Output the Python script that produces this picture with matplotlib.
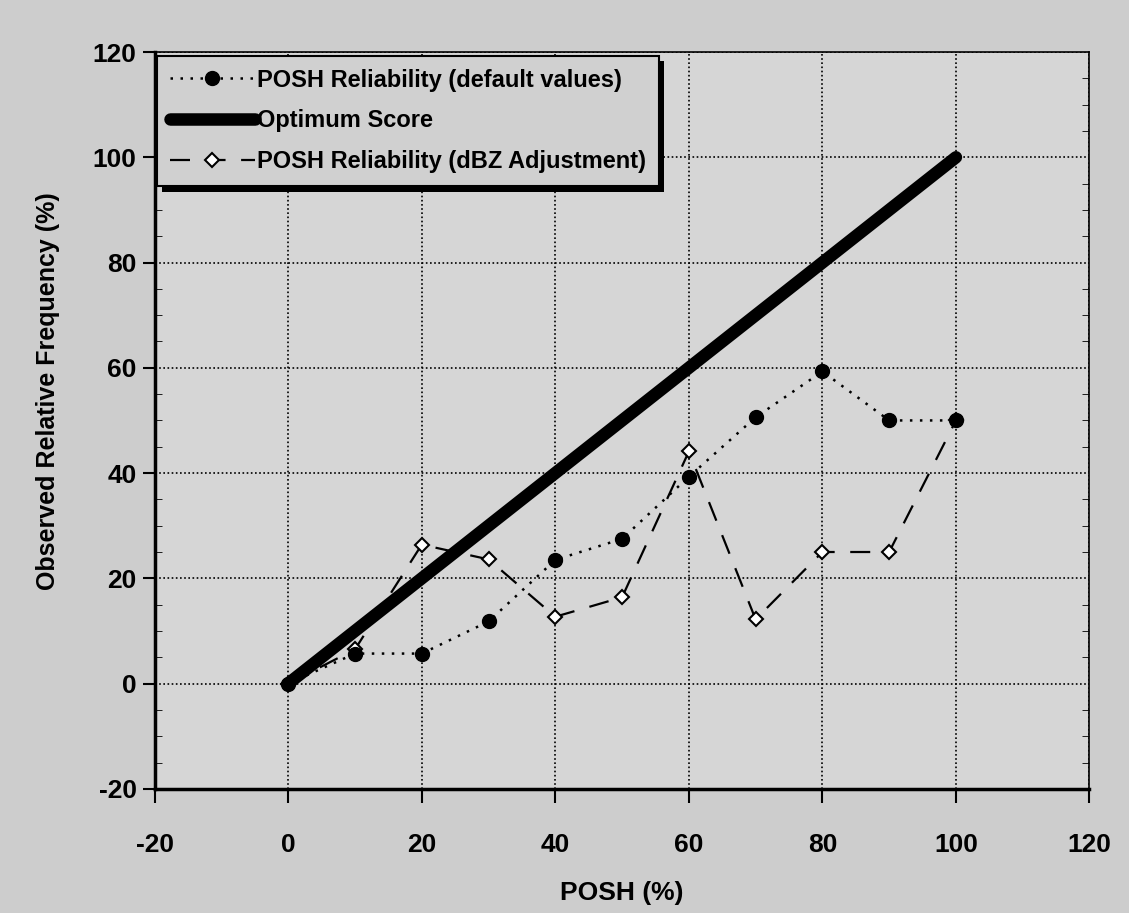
import matplotlib
matplotlib.use('Agg')
import matplotlib.pyplot as plt
import matplotlib.patheffects as pe
from matplotlib.ticker import MultipleLocator

# POSH forecast bins (%)
posh = [0, 10, 20, 30, 40, 50, 60, 70, 80, 90, 100]
# observed relative frequency (%)
default_vals = [0, 5.7, 5.7, 11.8, 23.5, 27.5, 39.3, 50.6, 59.3, 50.0, 50.0]
dbz_vals = [0, 6.5, 26.4, 23.6, 12.7, 16.4, 44.1, 12.2, 25.0, 25.0, 50.0]
optimum_x = [0, 100]
optimum_y = [0, 100]

plt.rcParams['font.family'] = ['Liberation Sans', 'DejaVu Sans']
plt.rcParams['axes.unicode_minus'] = False

fig = plt.figure(figsize=(11.29, 9.13), dpi=100, facecolor='#cdcdcd')
ax = fig.add_axes([0.137, 0.136, 0.828, 0.807])
ax.set_facecolor('#d6d6d6')

ax.plot(posh, default_vals, linestyle=(0, (1, 3)), color='black', lw=1.8,
        marker='o', markersize=10, markerfacecolor='black',
        label='POSH Reliability (default values)', zorder=5)
ax.plot(optimum_x, optimum_y, color='black', lw=9, solid_capstyle='round',
        label='Optimum Score', zorder=3)
ax.plot(posh, dbz_vals, linestyle=(0, (9, 7)), color='black', lw=1.6,
        marker='D', markersize=7, markerfacecolor='white', markeredgewidth=1.5,
        label='POSH Reliability (dBZ Adjustment)', zorder=4)

ax.set_xlim(-20, 120)
ax.set_ylim(-20, 120)
ax.xaxis.set_major_locator(MultipleLocator(20))
ax.yaxis.set_major_locator(MultipleLocator(20))
ax.yaxis.set_minor_locator(MultipleLocator(5))
ax.tick_params(axis='y', which='minor', direction='in', left=True, right=True, length=5)
ax.tick_params(axis='both', which='major', width=1.5, labelsize=19)
ax.tick_params(axis='x', which='major', length=10, pad=22)
ax.tick_params(axis='y', which='major', length=9, pad=4)
for lbl in ax.get_xticklabels() + ax.get_yticklabels():
    lbl.set_fontweight('bold')

ax.grid(True, which='major', color='black', linestyle=(0, (1, 1.5)), lw=1.2)

for side in ['left', 'bottom']:
    ax.spines[side].set_linewidth(2.5)
for side in ['top', 'right']:
    ax.spines[side].set_linewidth(1.2)

ax.set_xlabel('POSH (%)', fontsize=19, fontweight='bold')
ax.set_ylabel('Observed Relative Frequency (%)', fontsize=18, fontweight='bold')
ax.xaxis.set_label_coords(0.5, -0.125)
ax.yaxis.set_label_coords(-0.101, 0.54)

leg = ax.legend(loc='upper left', bbox_to_anchor=(0.002, 0.995), borderaxespad=0,
                fancybox=False, framealpha=1, facecolor='#d0d0d0', edgecolor='black',
                prop={'size': 17, 'weight': 'bold'}, handlelength=3.6,
                handletextpad=0.1, labelspacing=0.75, borderpad=0.55)
frame = leg.get_frame()
frame.set_linewidth(1.5)
frame.set_path_effects([pe.SimplePatchShadow(offset=(4, -4), shadow_rgbFace='black', alpha=1),
                        pe.Normal()])

fig.savefig('out.png', dpi=100, facecolor=fig.get_facecolor())
